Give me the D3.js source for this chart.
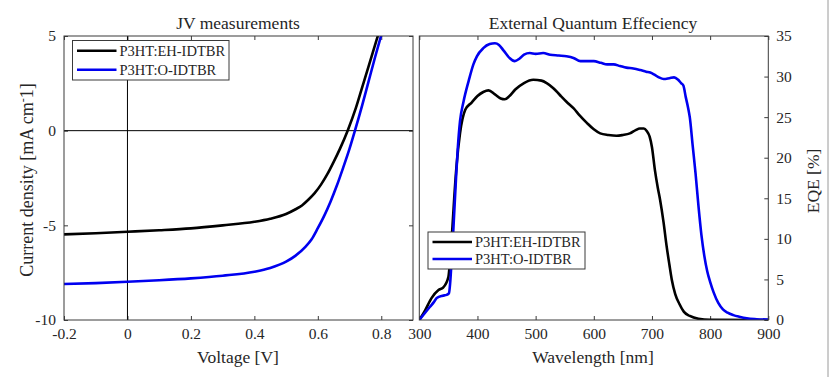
<!DOCTYPE html>
<html>

<head>
	<title>JV and EQE</title>
	<meta charset="utf-8">
	<script src="https://cdn.jsdelivr.net/npm/d3@7/dist/d3.min.js"></script>
</head>

<style>
	body {
		margin: 0;
		background: #fff;
	}

	svg text {
		font-family: "Liberation Serif", "Times New Roman", serif;
		fill: #262626;
	}

	.frame {
		fill: none;
		stroke: #3a3a3a;
		stroke-width: 1;
	}

	.curve {
		fill: none;
		stroke-width: 2.6;
		stroke-linejoin: round;
	}
</style>

<body>
	<svg width="832" height="377"></svg>

	<script>
		// series names and colours
		var seriesNames = ["P3HT:EH-IDTBR", "P3HT:O-IDTBR"];
		var seriesColors = ["#000000", "#0000f0"];

		// JV curves, voltage [V] / current density [mA cm^-2]
		var jvVoltageEH = [-0.2, -0.1, 0, 0.1, 0.2, 0.3, 0.4, 0.45, 0.5, 0.53, 0.55, 0.57, 0.59, 0.61, 0.63, 0.65, 0.67, 0.694, 0.72, 0.74, 0.76, 0.78, 0.79];
		var jvCurrentEH = [-5.48, -5.42, -5.34, -5.26, -5.16, -5.0, -4.81, -4.65, -4.4, -4.15, -3.95, -3.65, -3.3, -2.85, -2.3, -1.65, -0.95, 0, 1.2, 2.3, 3.4, 4.5, 5.05];
		var jvVoltageO = [-0.2, -0.1, 0, 0.1, 0.2, 0.3, 0.4, 0.45, 0.5, 0.53, 0.56, 0.58, 0.6, 0.62, 0.64, 0.66, 0.68, 0.7, 0.717, 0.74, 0.76, 0.78, 0.8];
		var jvCurrentO = [-8.1, -8.05, -7.98, -7.9, -7.8, -7.66, -7.45, -7.25, -6.92, -6.6, -6.15, -5.75, -5.15, -4.5, -3.75, -2.9, -1.95, -0.95, 0, 1.35, 2.6, 3.85, 5.05];

		// EQE spectra, wavelength [nm] / EQE [%]
		var eqeWavelengthEH = [300, 310, 321, 333, 341, 350, 353, 357, 360, 364, 370, 379, 390, 400, 410, 419, 430, 440, 447, 455, 465, 480, 496, 510, 519, 530, 542, 553, 565, 576, 588, 600, 611, 625, 639, 650, 662, 672, 679, 686, 691, 696, 700, 705, 710, 714, 720, 725, 730, 734, 740, 747, 755, 765, 780, 800, 900];
		var eqeEH = [0, 1.2, 2.7, 3.7, 4.0, 5.3, 7.5, 11.5, 15, 19, 23.0, 25.9, 26.8, 27.6, 28.1, 28.3, 27.8, 27.3, 27.2, 27.6, 28.4, 29.2, 29.6, 29.5, 29.2, 28.6, 27.7, 26.9, 26.1, 25.2, 24.3, 23.5, 23.0, 22.8, 22.7, 22.8, 23.0, 23.4, 23.6, 23.6, 23.3, 22.6, 21.3, 18.5, 16.3, 14.8, 12.0, 9.2, 6.8, 5.0, 3.2, 2.0, 1.0, 0.5, 0.15, 0.03, 0];
		var eqeWavelengthO = [300, 310, 318, 325, 330, 340, 347, 351, 353, 356, 358.5, 363, 366, 370, 376, 385, 393, 399, 410, 421, 430, 437, 445, 455, 464, 472, 480, 490, 500, 513, 525, 540, 553, 565, 577, 588, 600, 612, 623, 634, 645, 656, 668, 680, 690, 697, 705, 712, 720, 730, 738, 745, 750, 754, 758, 762, 765, 770, 775, 780, 785, 790, 795, 800, 806, 814, 822, 830, 840, 850, 863, 880, 900];
		var eqeO = [0, 0.9, 1.6, 2.2, 2.7, 3.0, 3.1, 3.3, 4.5, 8, 11.1, 17.3, 21, 24.5, 26.9, 29.5, 31.5, 32.5, 33.5, 34.0, 34.1, 33.9, 33.2, 32.3, 31.9, 32.2, 32.7, 32.9, 32.8, 32.9, 32.7, 32.6, 32.5, 32.3, 31.9, 31.9, 31.9, 31.7, 31.5, 31.5, 31.3, 31.1, 31.0, 30.8, 30.6, 30.5, 30.2, 29.9, 29.7, 29.8, 29.9, 29.6, 29.2, 28.9, 27.5, 26.2, 25.0, 21.5, 18, 14, 10.5, 7.9, 6.0, 4.7, 3.4, 2.1, 1.3, 0.9, 0.6, 0.4, 0.2, 0.1, 0.05];

		// tick labels
		var jvXTicks = [-0.2, 0, 0.2, 0.4, 0.6, 0.8];
		var jvYTicks = [-10, -5, 0, 5];
		var eqeXTicks = [300, 400, 500, 600, 700, 800, 900];
		var eqeYTicks = [0, 5, 10, 15, 20, 25, 30, 35];

		var svg = d3.select("svg");
		var plotTop = 36, plotBottom = 320, tickLen = 4;
		var labelSize = "17.5px";
		// plain hyphen minus, as in the original figure
		var plainFmt = function(d) { return String(d); };

		// faint page border on the right
		svg.append("line")
			.attr("x1", 828).attr("x2", 828)
			.attr("y1", 0).attr("y2", 377)
			.attr("stroke", "#9a9a9a");

		// ---------- JV panel ----------
		var xJV = d3.scaleLinear().domain([-0.2, 0.9]).range([64, 413]);
		var yJV = d3.scaleLinear().domain([-10, 5]).range([plotBottom, plotTop]);

		var jv = svg.append("g");

		jv.append("clipPath").attr("id", "clipJV")
			.append("rect")
			.attr("x", 64).attr("y", plotTop)
			.attr("width", 413 - 64).attr("height", plotBottom - plotTop);

		// ticks on all four sides, pointing inwards
		jv.append("g").attr("transform", "translate(0," + plotBottom + ")")
			.call(d3.axisBottom(xJV).tickValues(jvXTicks).tickSizeInner(-tickLen).tickSizeOuter(0).tickPadding(8).tickFormat(plainFmt));
		jv.append("g").attr("transform", "translate(0," + plotTop + ")")
			.call(d3.axisTop(xJV).tickValues(jvXTicks).tickSizeInner(-tickLen).tickSizeOuter(0).tickFormat(""));
		jv.append("g").attr("transform", "translate(64,0)")
			.call(d3.axisLeft(yJV).tickValues(jvYTicks).tickSizeInner(-tickLen).tickSizeOuter(0).tickPadding(8).tickFormat(plainFmt));
		jv.append("g").attr("transform", "translate(413,0)")
			.call(d3.axisRight(yJV).tickValues(jvYTicks).tickSizeInner(-tickLen).tickSizeOuter(0).tickFormat(""));

		// zero lines
		jv.append("line")
			.attr("x1", xJV(0)).attr("x2", xJV(0))
			.attr("y1", plotTop).attr("y2", plotBottom)
			.attr("stroke", "#000");
		jv.append("line")
			.attr("x1", 64).attr("x2", 413)
			.attr("y1", yJV(0)).attr("y2", yJV(0))
			.attr("stroke", "#000");

		var lineJV = d3.line()
			.x(function(d) { return xJV(d[0]); })
			.y(function(d) { return yJV(d[1]); })
			.curve(d3.curveMonotoneX);

		var jvSeries = [d3.zip(jvVoltageEH, jvCurrentEH), d3.zip(jvVoltageO, jvCurrentO)];
		jv.append("g").attr("clip-path", "url(#clipJV)")
			.selectAll("path")
			.data(jvSeries)
			.enter()
			.append("path")
			.attr("class", "curve")
			.attr("stroke", function(d, i) { return seriesColors[i]; })
			.attr("d", lineJV);

		jv.append("rect").attr("class", "frame")
			.attr("x", 64).attr("y", plotTop)
			.attr("width", 413 - 64).attr("height", plotBottom - plotTop);

		jv.append("text")
			.attr("x", 238).attr("y", 29)
			.attr("text-anchor", "middle")
			.style("font-size", labelSize)
			.text("JV measurements");
		jv.append("text")
			.attr("x", 238).attr("y", 363)
			.attr("text-anchor", "middle")
			.style("font-size", labelSize)
			.text("Voltage [V]");

		var yLab = jv.append("text")
			.attr("transform", "translate(33,180) rotate(-90)")
			.attr("text-anchor", "middle")
			.style("font-size", "18px");
		yLab.append("tspan").text("Current density [mA cm");
		yLab.append("tspan").attr("dy", -6).style("font-size", "12px").text("-");
		yLab.append("tspan").attr("dy", 6).text("1]");

		// ---------- EQE panel ----------
		var xEQE = d3.scaleLinear().domain([300, 900]).range([419.3, 768.3]);
		var yEQE = d3.scaleLinear().domain([0, 35]).range([plotBottom, plotTop]);

		var eqe = svg.append("g");

		eqe.append("clipPath").attr("id", "clipEQE")
			.append("rect")
			.attr("x", 419.3).attr("y", plotTop)
			.attr("width", 349).attr("height", plotBottom - plotTop);

		eqe.append("g").attr("transform", "translate(0," + plotBottom + ")")
			.call(d3.axisBottom(xEQE).tickValues(eqeXTicks).tickSizeInner(-tickLen).tickSizeOuter(0).tickPadding(8).tickFormat(plainFmt));
		eqe.append("g").attr("transform", "translate(0," + plotTop + ")")
			.call(d3.axisTop(xEQE).tickValues(eqeXTicks).tickSizeInner(-tickLen).tickSizeOuter(0).tickFormat(""));
		eqe.append("g").attr("transform", "translate(768.3,0)")
			.call(d3.axisRight(yEQE).tickValues(eqeYTicks).tickSizeInner(-tickLen).tickSizeOuter(0).tickPadding(8).tickFormat(plainFmt));

		var lineEQE = d3.line()
			.x(function(d) { return xEQE(d[0]); })
			.y(function(d) { return yEQE(d[1]); })
			.curve(d3.curveMonotoneX);

		var eqeSeries = [d3.zip(eqeWavelengthEH, eqeEH), d3.zip(eqeWavelengthO, eqeO)];
		eqe.append("g").attr("clip-path", "url(#clipEQE)")
			.selectAll("path")
			.data(eqeSeries)
			.enter()
			.append("path")
			.attr("class", "curve")
			.attr("stroke", function(d, i) { return seriesColors[i]; })
			.attr("d", lineEQE);

		eqe.append("rect").attr("class", "frame")
			.attr("x", 419.3).attr("y", plotTop)
			.attr("width", 349).attr("height", plotBottom - plotTop);

		eqe.append("text")
			.attr("x", 593).attr("y", 29)
			.attr("text-anchor", "middle")
			.style("font-size", labelSize)
			.text("External Quantum Effeciency");
		eqe.append("text")
			.attr("x", 593).attr("y", 363)
			.attr("text-anchor", "middle")
			.style("font-size", labelSize)
			.text("Wavelength [nm]");
		eqe.append("text")
			.attr("transform", "translate(819,181) rotate(-90)")
			.attr("text-anchor", "middle")
			.style("font-size", labelSize)
			.text("EQE [%]");

		// shared axis styling
		svg.selectAll(".domain").remove();
		svg.selectAll(".tick line").attr("stroke", "#3a3a3a");
		svg.selectAll(".tick text")
			.attr("fill", "#262626")
			.style("font-size", "15.5px")
			.style("font-family", "'Liberation Serif', 'Times New Roman', serif");

		// ---------- legends ----------
		function legend(x, y, w, h, rowGap) {
			var g = svg.append("g").attr("transform", "translate(" + x + "," + y + ")");
			g.append("rect")
				.attr("width", w).attr("height", h)
				.attr("fill", "#fff")
				.attr("stroke", "#3a3a3a");
			var rows = g.selectAll("g.row")
				.data(seriesNames)
				.enter()
				.append("g")
				.attr("class", "row")
				.attr("transform", function(d, i) { return "translate(0," + (h / 2 + (i - 0.5) * rowGap) + ")"; });
			rows.append("line")
				.attr("x1", 4.5).attr("x2", 44)
				.attr("stroke-width", 2.6)
				.attr("stroke", function(d, i) { return seriesColors[i]; });
			rows.append("text")
				.attr("x", 47).attr("y", 5)
				.style("font-size", "14.5px")
				.text(function(d) { return d; });
		}

		legend(72.5, 40.5, 156.5, 39.5, 19);
		legend(428, 232, 157, 37, 17);
	</script>
</body>

</html>
